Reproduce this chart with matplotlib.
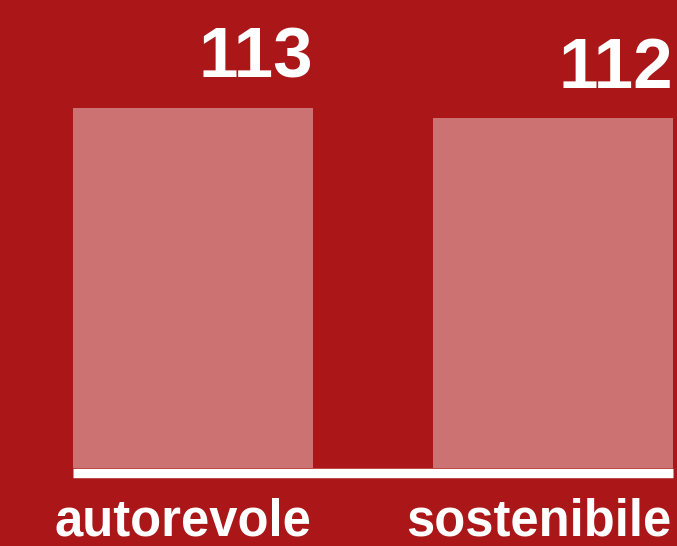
import matplotlib.pyplot as plt

# data
categories = ['autorevole', 'sostenibile']
values = [113, 112]

# colours
bg = '#ab1618'
bar_col = '#cc7272'

fig = plt.figure(figsize=(6.77, 5.46), dpi=100, facecolor=bg)
ax = fig.add_axes([73 / 677, (546 - 468) / 546, 600 / 677, 468 / 546])
ax.set_facecolor(bg)

x = list(range(len(categories)))
w = 2 / 3
base = 77
ax.bar(x, [v - base for v in values], width=w, bottom=base, color=bar_col)

ax.set_xlim(-w / 2, x[-1] + w / 2)
ax.set_ylim(base, base + 46.8)

# white baseline
ax.axhline(base - 0.45, color='white', lw=6.8, clip_on=False, solid_capstyle='butt')

for xi, v, c in zip(x, values, categories):
    ax.text(xi + w / 2, v + 3.0, str(v), ha='right', va='baseline', color='white',
            fontsize=51, fontweight='bold', family='Liberation Sans')
    ax.text(xi + w / 2 - 0.005, base - 6.7, c, ha='right', va='baseline', color='white',
            fontsize=36.5, fontweight='bold', family='Liberation Sans', clip_on=False)

ax.axis('off')
fig.savefig('out.png', dpi=100, facecolor=bg)
